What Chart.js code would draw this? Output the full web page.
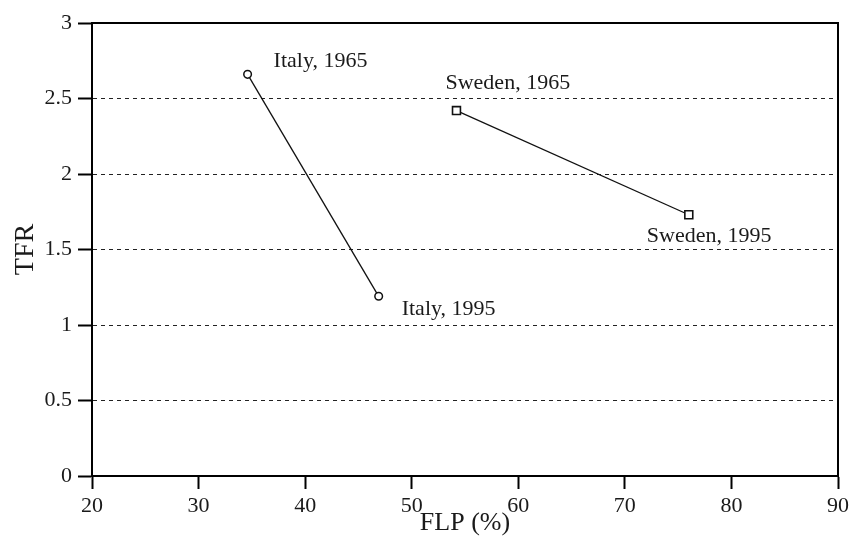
<!DOCTYPE html>
<html>
<head>
<meta charset="utf-8">
<script src="https://cdn.jsdelivr.net/npm/chart.js@4.4.0/dist/chart.umd.min.js"></script>
<style>
  html, body { margin: 0; padding: 0; background: #fff; }
  #wrap { width: 853px; height: 544px; position: relative; }
</style>
</head>
<body>
<div id="wrap"><canvas id="chart"></canvas></div>
<script>
// FLP (%) vs TFR, 1965 and 1995
const italyFLP = [34.6, 46.9];
const italyTFR = [2.66, 1.19];
const swedenFLP = [54.2, 76.0];
const swedenTFR = [2.42, 1.73];
const italyLabels = ['Italy, 1965', 'Italy, 1995'];
const swedenLabels = ['Sweden, 1965', 'Sweden, 1995'];

const xTicks = [20, 30, 40, 50, 60, 70, 80, 90];
const yTicks = [0, 0.5, 1, 1.5, 2, 2.5, 3];

const serif = '"Liberation Serif", "DejaVu Serif", serif';
const ink = '#1a1a1a';

function toPoints(xs, ys) {
    return xs.map((x, i) => ({ x: x, y: ys[i] }));
}

// label offsets from each point, in px
const labelOffsets = [
    [[26, -13], [23, 13]],
    [[-11, -27], [-42, 21]]
];
const pointLabels = [italyLabels, swedenLabels];

const pointLabelPlugin = {
    id: 'pointLabels',
    afterDatasetsDraw(chart) {
        const ctx = chart.ctx;
        ctx.save();
        ctx.font = '22px ' + serif;
        ctx.fillStyle = ink;
        ctx.textAlign = 'left';
        ctx.textBaseline = 'middle';
        pointLabels.forEach((texts, di) => {
            const meta = chart.getDatasetMeta(di);
            texts.forEach((t, pi) => {
                const el = meta.data[pi];
                const off = labelOffsets[di][pi];
                ctx.fillText(t, el.x + off[0], el.y + off[1]);
            });
        });
        ctx.restore();
    }
};

const framePlugin = {
    id: 'frame',
    afterDraw(chart) {
        const a = chart.chartArea;
        const ctx = chart.ctx;
        ctx.save();
        ctx.strokeStyle = '#000';
        ctx.lineWidth = 2;
        ctx.strokeRect(a.left, a.top, a.right - a.left, a.bottom - a.top);
        ctx.restore();
    }
};

new Chart(document.getElementById('chart'), {
    type: 'scatter',
    data: {
        datasets: [
            {
                label: 'Italy',
                data: toPoints(italyFLP, italyTFR),
                showLine: true,
                borderColor: '#111',
                borderWidth: 1.3,
                pointStyle: 'circle',
                pointRadius: 3.8,
                pointBorderWidth: 1.5,
                pointBackgroundColor: '#fff',
                pointBorderColor: '#111'
            },
            {
                label: 'Sweden',
                data: toPoints(swedenFLP, swedenTFR),
                showLine: true,
                borderColor: '#111',
                borderWidth: 1.3,
                pointStyle: 'rect',
                pointRadius: 5.6,
                pointBorderWidth: 1.6,
                pointBackgroundColor: '#fff',
                pointBorderColor: '#111'
            }
        ]
    },
    options: {
        responsive: true,
        maintainAspectRatio: false,
        animation: false,
        layout: { padding: { left: 0, right: 14, top: 23, bottom: 0 } },
        plugins: {
            legend: { display: false },
            tooltip: { enabled: false }
        },
        scales: {
            x: {
                type: 'linear',
                min: 20,
                max: 90,
                afterBuildTicks: scale => { scale.ticks = xTicks.map(v => ({ value: v })); },
                afterFit: scale => { scale.height = 68; },
                ticks: {
                    font: { family: serif, size: 22 },
                    color: ink,
                    padding: 4,
                    maxRotation: 0
                },
                grid: {
                    drawOnChartArea: false,
                    tickLength: 13,
                    tickWidth: 2,
                    tickColor: '#000',
                    color: '#000'
                },
                border: { color: '#000', width: 2 },
                title: {
                    display: true,
                    text: 'FLP (%)',
                    font: { family: serif, size: 26 },
                    color: ink,
                    padding: { top: 0, bottom: 5 }
                }
            },
            y: {
                type: 'linear',
                min: 0,
                max: 3,
                afterBuildTicks: scale => { scale.ticks = yTicks.map(v => ({ value: v })); },
                afterFit: scale => { scale.width = 92; },
                ticks: {
                    font: { family: serif, size: 22 },
                    color: ink,
                    padding: 6,
                    callback: v => String(v)
                },
                grid: {
                    color: '#222',
                    lineWidth: 1,
                    tickLength: 14,
                    tickWidth: 2,
                    tickColor: '#000',
                    tickBorderDash: []
                },
                border: { color: '#000', width: 2, dash: [4, 4] },
                title: {
                    display: true,
                    text: 'TFR',
                    font: { family: serif, size: 28 },
                    color: ink,
                    padding: { top: 9, bottom: 0 }
                }
            }
        }
    },
    plugins: [pointLabelPlugin, framePlugin]
});
</script>
</body>
</html>
